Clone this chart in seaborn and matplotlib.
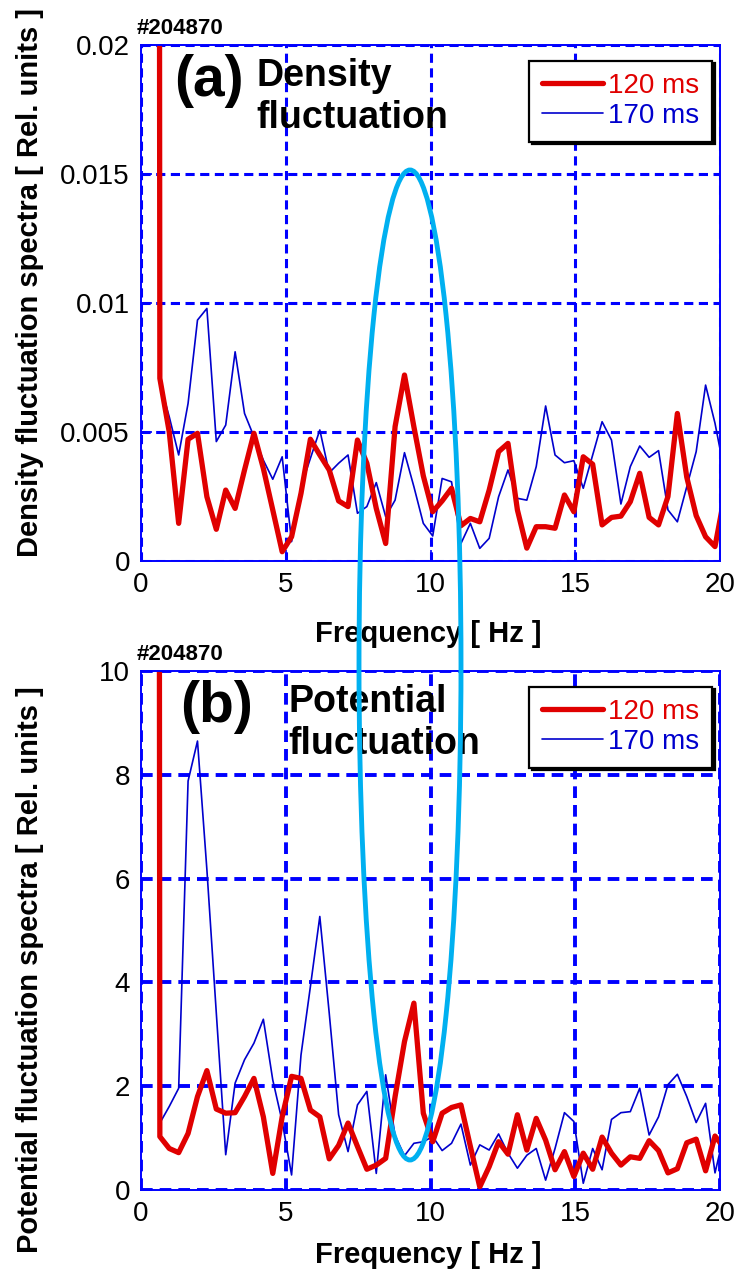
import numpy as np
import pandas as pd
import seaborn as sns
import matplotlib
matplotlib.use('Agg')
from matplotlib import pyplot as plt
from matplotlib.patches import Ellipse

# spectra sampled every 0.325 Hz, first bin is the (clipped) low frequency spike
shot = '#204870'
freq_step = 0.325
freq = freq_step * np.arange(1, 63)
times = ['120 ms', '170 ms']

# density fluctuation spectra, in units of 1e-3
dens_120 = [400, 7.08, 5.0, 1.46, 4.72, 4.95, 2.49, 1.23, 2.75, 2.04, 3.53, 4.95, 3.59, 1.98, 0.36, 0.94,
            2.62, 4.72, 4.11, 3.53, 2.33, 2.11, 4.69, 3.79, 2.04, 0.68, 5.21, 7.21, 5.2, 3.3, 1.91,
            2.33, 2.82, 1.37, 1.65, 1.52, 2.75, 4.24, 4.56, 1.98, 0.5, 1.33, 1.33, 1.27, 2.56, 1.91,
            4.04, 3.75, 1.40, 1.69, 1.74, 2.30, 3.40, 1.69, 1.40, 2.5, 5.72, 3.25, 1.76, 0.94, 0.56, 2.5]
dens_170 = [400, 6.89, 5.59, 4.11, 6.11, 9.34, 9.79, 4.63, 5.27, 8.11, 5.72, 4.82, 3.91, 3.17, 4.04, 0.75,
            2.88, 3.98, 5.08, 3.42, 3.79, 4.11, 1.85, 2.11, 3.04, 1.72, 2.36, 4.20, 2.88, 1.46, 0.97,
            3.20, 3.07, 0.68, 1.46, 0.49, 0.88, 2.49, 3.53, 2.43, 2.36, 3.66, 6.01, 4.11, 3.81, 3.89,
            2.82, 4.11, 5.40, 4.69, 2.21, 3.66, 4.46, 4.02, 4.28, 1.98, 1.52, 2.88, 4.24, 6.82, 5.34, 3.46]

# potential fluctuation spectra
pot_120 = [200, 1.03, 0.80, 0.72, 1.09, 1.80, 2.30, 1.56, 1.48, 1.49, 1.80, 2.15, 1.41, 0.32, 1.41, 2.19,
           2.15, 1.54, 1.41, 0.60, 0.86, 1.29, 0.84, 0.40, 0.48, 0.61, 1.80, 2.86, 3.60, 1.48, 0.93,
           1.48, 1.59, 1.64, 0.84, 0.06, 0.45, 0.93, 0.69, 1.45, 0.77, 1.38, 0.96, 0.39, 0.74, 0.26,
           0.71, 0.40, 1.02, 0.71, 0.48, 0.64, 0.61, 0.95, 0.76, 0.33, 0.41, 0.91, 0.98, 0.37, 1.04, 0.8]
pot_170 = [200, 1.29, 1.61, 1.96, 7.88, 8.65, 6.17, 3.41, 0.68, 2.06, 2.51, 2.83, 3.29, 2.12, 1.32, 0.29,
           2.60, 3.92, 5.27, 3.41, 1.45, 0.74, 1.64, 1.90, 0.32, 2.22, 1.05, 0.66, 0.90, 0.93, 1.03,
           0.76, 0.90, 1.27, 0.48, 0.87, 0.77, 1.08, 0.71, 0.42, 0.67, 0.80, 0.19, 0.80, 1.49, 1.32,
           0.13, 0.80, 0.39, 1.36, 1.49, 1.51, 1.96, 1.06, 1.41, 2.03, 2.23, 1.80, 1.30, 1.67, 0.33, 1.1]

x_ticks = [0, 5, 10, 15, 20]
dens_ticks = [0, 0.005, 0.01, 0.015, 0.02]
dens_tick_labels = ['0', '0.005', '0.01', '0.015', '0.02']
pot_ticks = [0, 2, 4, 6, 8, 10]

red = '#E00000'
blue = '#0000CD'
grid_blue = '#0000FF'

sns.set_style('white')
plt.rcParams['font.family'] = ['Liberation Sans', 'DejaVu Sans']
plt.rcParams['text.color'] = 'black'
plt.rcParams['axes.labelcolor'] = 'black'
plt.rcParams['xtick.labelcolor'] = 'black'
plt.rcParams['ytick.labelcolor'] = 'black'

fig = plt.figure(figsize=(7.38, 12.8), dpi=100)
ax1 = fig.add_axes([0.1911, 0.5617, 0.7846, 0.4031])
ax2 = fig.add_axes([0.1911, 0.0703, 0.7846, 0.4055])


def draw_panel(ax, v120, v170, ylim, yticks, ylabels, ylabel, tag, title, title_x, ylab_y, xlab_y, grid_lw):
    d = pd.DataFrame({'freq': np.concatenate([freq, freq]),
                      'value': np.concatenate([v170, v120]),
                      'time': [times[1]] * len(freq) + [times[0]] * len(freq)})
    # blue first so the thick red trace sits on top
    sns.lineplot(data=d[d.time == times[1]], x='freq', y='value', ax=ax, color=blue, lw=1.2,
                 estimator=None, sort=False, label=times[1])
    sns.lineplot(data=d[d.time == times[0]], x='freq', y='value', ax=ax, color=red, lw=3.8,
                 estimator=None, sort=False, label=times[0], solid_joinstyle='round')
    ax.set_xlim(0, 20)
    ax.set_ylim(*ylim)
    ax.set_xticks(x_ticks)
    ax.set_yticks(yticks)
    ax.set_yticklabels(ylabels)
    ax.grid(True, color=grid_blue, ls=(0, (3, 1.8)), lw=grid_lw)
    for s in ax.spines.values():
        s.set_color(grid_blue)
        s.set_linewidth(1.4)
        s.set_visible(True)
    ax.tick_params(direction='in', length=8, width=1.2, color=grid_blue, labelcolor='black',
                   labelsize=20, pad=8, left=True, bottom=True)
    ax.set_xlabel('Frequency [ Hz ]', fontsize=21, fontweight='bold', color='black')
    ax.set_ylabel(ylabel, fontsize=21, fontweight='bold', color='black')
    ax.xaxis.set_label_coords(0.496, xlab_y)
    ax.yaxis.set_label_coords(-0.168, ylab_y)

    h = ax.get_lines()
    leg = ax.legend(handles=[h[1], h[0]], labels=times, loc='upper right',
                    bbox_to_anchor=(0.986, 0.97), borderaxespad=0, fontsize=20,
                    frameon=True, fancybox=False, shadow={'color': 'black', 'alpha': 1},
                    edgecolor='black', framealpha=1, handlelength=2.2, handletextpad=0.2,
                    labelspacing=0.15, borderpad=0.45, labelcolor='linecolor')
    leg.get_frame().set_linewidth(1.6)

    ax.text(-0.007, 1.012, shot, transform=ax.transAxes, fontsize=16, fontweight='bold',
            ha='left', va='bottom', color='black')
    ax.text(tag[1], 0.983, tag[0], transform=ax.transAxes, fontsize=41, fontweight='bold',
            ha='left', va='top', color='black')
    ax.text(title_x, 0.975, title, transform=ax.transAxes, fontsize=27, fontweight='bold',
            ha='left', va='top', linespacing=1.2, color='black')


draw_panel(ax1, np.array(dens_120) * 1e-3, np.array(dens_170) * 1e-3, (0, 0.02), dens_ticks,
           dens_tick_labels, 'Density fluctuation spectra [ Rel. units ]', ('(a)', 0.058),
           'Density\nfluctuation', 0.2, 0.54, -0.114, 2.2)
draw_panel(ax2, pot_120, pot_170, (0, 10), pot_ticks, [str(t) for t in pot_ticks],
           'Potential fluctuation spectra [ Rel. units ]', ('(b)', 0.067),
           'Potential\nfluctuation', 0.254, 0.425, -0.098, 2.8)

# highlight ellipse spanning both panels
fig.add_artist(Ellipse((410 / 738, 1 - 665 / 1280), 102 / 738, 990 / 1280,
                       transform=fig.transFigure, fill=False, edgecolor='#00B0F0', lw=3.5))

fig.savefig('out.png', dpi=100)
